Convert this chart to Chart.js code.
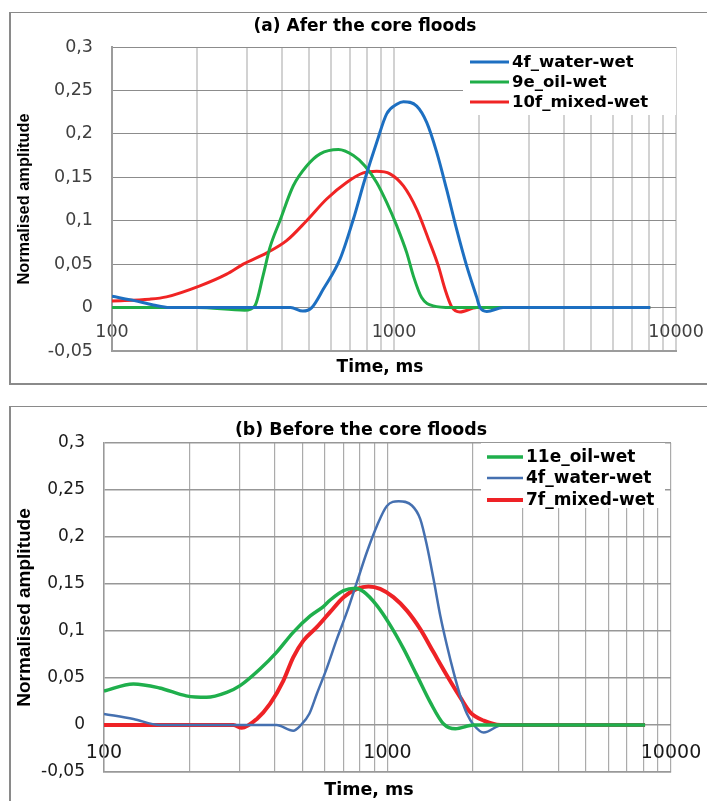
<!DOCTYPE html>
<html>
<head>
<meta charset="utf-8">
<title>Normalised amplitude vs time</title>
<script src="https://cdn.jsdelivr.net/npm/chart.js@4.4.1/dist/chart.umd.min.js"></script>
<style>
  html, body { margin: 0; padding: 0; background: #fff; overflow: hidden; }
  body { width: 707px; height: 801px; position: relative; }
  .frame { position: absolute; box-sizing: border-box; border: 1px solid #8a8a8a; border-left-width: 2px; }
  #frameA { left: 9px; top: 12px; width: 720px; height: 373px; border-bottom-width: 2px; }
  #frameB { left: 9px; top: 406px; width: 720px; height: 420px; }
  canvas { position: absolute; left: 0; }
  #chartA { top: 0; }
  #chartB { top: 395px; }
</style>
</head>
<body>
<div class="frame" id="frameA"></div>
<div class="frame" id="frameB"></div>
<canvas id="chartA" width="707" height="390"></canvas>
<canvas id="chartB" width="707" height="406"></canvas>
<script>
// time axis (ms, log) - a gridline on every 1..9 x 10^n, labels on decades only
const xTicks = [100, 200, 300, 400, 500, 600, 700, 800, 900,
                1000, 2000, 3000, 4000, 5000, 6000, 7000, 8000, 9000, 10000];
const xLabelled = [100, 1000, 10000];
const yMin = -0.05, yMax = 0.3, yStep = 0.05;

// (a) after the core floods
const aWaterT = [100, 120, 140, 160, 300, 430, 475, 511, 561, 644, 718, 789, 868, 942, 1023, 1080, 1204, 1307, 1417, 1537, 1668, 1810, 1964, 2018, 2133, 2438, 4000, 8100];
const aWaterV = [0.013, 0.008, 0.003, 0, 0, 0, -0.004, 0, 0.021, 0.056, 0.102, 0.148, 0.190, 0.223, 0.234, 0.237, 0.232, 0.213, 0.179, 0.136, 0.090, 0.048, 0.012, 0, -0.0045, 0, 0, 0];
const aOilT = [100, 200, 296, 321, 344, 363, 394, 439, 490, 547, 635, 718, 789, 868, 942, 1023, 1110, 1171, 1253, 1377, 1600, 8100];
const aOilV = [0, 0, -0.003, 0.002, 0.038, 0.069, 0.100, 0.140, 0.163, 0.177, 0.182, 0.175, 0.163, 0.144, 0.121, 0.094, 0.063, 0.0365, 0.0115, 0.002, 0, 0];
const aMixedT = [100, 136, 156, 205, 255, 292, 354, 416, 490, 577, 679, 778, 868, 968, 1080, 1204, 1324, 1436, 1517, 1601, 1713, 1964, 8100];
const aMixedV = [0.0077, 0.0097, 0.0123, 0.025, 0.0385, 0.050, 0.063, 0.077, 0.100, 0.125, 0.144, 0.155, 0.157, 0.154, 0.140, 0.113, 0.079, 0.048, 0.021, 0.001, -0.005, 0, 0];

// (b) before the core floods
const bOilT = [100, 127, 157, 195, 230, 271, 302, 355, 406, 465, 534, 594, 628, 700, 769, 822, 918, 1023, 1140, 1271, 1416, 1578, 1735, 2014, 8100];
const bOilV = [0.036, 0.0437, 0.0394, 0.031, 0.0294, 0.0347, 0.0419, 0.0596, 0.0773, 0.0986, 0.116, 0.126, 0.133, 0.143, 0.1455, 0.142, 0.127, 0.106, 0.081, 0.0525, 0.024, 0.001, -0.004, 0, 0];
const bWaterT = [100, 127, 157, 406, 465, 495, 530, 563, 610, 663, 719, 780, 846, 918, 995, 1094, 1219, 1305, 1377, 1454, 1536, 1622, 1711, 1806, 1908, 2014, 2185, 2536, 8100];
const bWaterV = [0.0117, 0.0064, 0, 0, -0.006, 0, 0.012, 0.033, 0.060, 0.0916, 0.120, 0.152, 0.184, 0.212, 0.233, 0.238, 0.2335, 0.219, 0.191, 0.155, 0.116, 0.084, 0.056, 0.031, 0.0117, 0, -0.008, 0, 0];
const bMixedT = [100, 286, 306, 346, 385, 429, 465, 505, 563, 627, 700, 780, 857, 942, 1049, 1171, 1305, 1454, 1622, 1806, 1959, 2185, 2500, 8100];
const bMixedV = [0, 0, -0.003, 0.0064, 0.0224, 0.047, 0.072, 0.0898, 0.104, 0.120, 0.136, 0.1448, 0.1473, 0.1448, 0.136, 0.1217, 0.102, 0.0773, 0.0525, 0.0294, 0.0134, 0.0046, 0, 0];

Chart.defaults.font.family = '"DejaVu Sans", sans-serif';

function pts(t, v) {
  return t.map((x, i) => ({ x: x, y: v[i] }));
}

function commaLabel(v) {
  return String(Math.round(v * 100) / 100).replace('.', ',');
}

// panel title, x axis title and the in-plot legend
const panelDecor = {
  id: 'panelDecor',
  afterDraw(chart, args, o) {
    const ctx = chart.ctx;
    ctx.save();
    ctx.fillStyle = '#000';
    ctx.textAlign = 'center';
    ctx.textBaseline = 'middle';
    ctx.font = o.titleFont;
    ctx.fillText(o.title, o.titleAt[0], o.titleAt[1]);
    ctx.font = o.xTitleFont;
    ctx.fillText(o.xTitle, o.xTitleAt[0], o.xTitleAt[1]);

    const b = o.legendBox;
    ctx.fillStyle = '#fff';
    ctx.fillRect(b[0], b[1], b[2] - b[0], b[3] - b[1]);
    ctx.font = o.legendFont;
    ctx.textAlign = 'left';
    chart.data.datasets.forEach((ds, i) => {
      const y = o.legendRows[i];
      ctx.strokeStyle = ds.borderColor;
      ctx.lineWidth = ds.borderWidth;
      ctx.beginPath();
      ctx.moveTo(o.legendLine[0], y);
      ctx.lineTo(o.legendLine[1], y);
      ctx.stroke();
      ctx.fillStyle = '#000';
      ctx.fillText(ds.label, o.legendTextX, y + 1);
    });
    ctx.restore();
  }
};

function panelOptions(p) {
  return {
    responsive: false,
    animation: false,
    layout: { padding: { left: 12, right: p.padRight, top: p.padTop, bottom: 0 } },
    elements: {
      point: { radius: 0 },
      line: { cubicInterpolationMode: 'monotone', fill: false }
    },
    plugins: {
      legend: { display: false },
      title: { display: false },
      tooltip: { enabled: false },
      panelDecor: p.decor
    },
    scales: {
      x: {
        type: 'logarithmic',
        min: 100,
        max: 10000,
        afterBuildTicks: s => { s.ticks = xTicks.map(v => ({ value: v })); },
        afterFit: s => { s.height = p.xAxisHeight; s.paddingLeft = 0; s.paddingRight = 0; },
        ticks: {
          // labels sit just above the bottom edge of the plot
          mirror: true,
          autoSkip: false, maxRotation: 0, minRotation: 0,
          padding: p.xTickPad,
          color: p.tickColor,
          font: { size: p.xTickSize },
          callback: v => xLabelled.includes(v) ? String(v) : ''
        },
        grid: { color: p.xGridColor, lineWidth: p.xGridWidth, drawTicks: false },
        border: { display: true, color: p.borderColor, width: p.borderWidth }
      },
      y: {
        min: yMin,
        max: yMax,
        afterFit: s => { s.width = p.yAxisWidth; s.paddingTop = 0; s.paddingBottom = 0; },
        ticks: {
          stepSize: yStep,
          padding: 19,
          color: p.tickColor,
          font: { size: p.yTickSize },
          callback: v => commaLabel(v)
        },
        grid: { color: p.yGridColor, lineWidth: p.yGridWidth, drawTicks: false },
        border: { display: true, color: p.borderColor, width: p.borderWidth },
        title: {
          display: true,
          text: 'Normalised amplitude',
          color: '#000',
          font: { family: '"Liberation Sans", Arial, sans-serif', size: p.yTitleSize, weight: 'bold' },
          padding: { top: p.yTitlePad, bottom: 0 }
        }
      }
    }
  };
}

new Chart(document.getElementById('chartA'), {
  type: 'line',
  data: {
    datasets: [
      { label: '4f_water-wet', data: pts(aWaterT, aWaterV), borderColor: '#1d6fc1', borderWidth: 3 },
      { label: '9e_oil-wet', data: pts(aOilT, aOilV), borderColor: '#1fae48', borderWidth: 3 },
      { label: '10f_mixed-wet', data: pts(aMixedT, aMixedV), borderColor: '#f02424', borderWidth: 3 }
    ]
  },
  options: panelOptions({
    padTop: 47, padRight: 31, xAxisHeight: 39, yAxisWidth: 100,
    xTickPad: 8.5, xTickSize: 17.5, yTickSize: 17.5, tickColor: '#404040',
    xGridColor: '#d2d2d2', xGridWidth: 2, yGridColor: '#8c8c8c', yGridWidth: 1,
    borderColor: '#9c9c9c', borderWidth: 2,
    yTitleSize: 16.4, yTitlePad: 3,
    decor: {
      title: '(a) Afer the core floods', titleAt: [365, 27], titleFont: 'bold 17px "DejaVu Sans"',
      xTitle: 'Time, ms', xTitleAt: [380, 368], xTitleFont: 'bold 17px "DejaVu Sans"',
      legendBox: [463, 48, 676, 115], legendLine: [470, 509], legendTextX: 512,
      legendRows: [62, 82, 102], legendFont: 'bold 16.5px "DejaVu Sans"'
    }
  }),
  plugins: [panelDecor]
});

new Chart(document.getElementById('chartB'), {
  type: 'line',
  data: {
    datasets: [
      { label: '11e_oil-wet', data: pts(bOilT, bOilV), borderColor: '#1faf4c', borderWidth: 3.5 },
      { label: '4f_water-wet', data: pts(bWaterT, bWaterV), borderColor: '#4570b0', borderWidth: 2.5 },
      { label: '7f_mixed-wet', data: pts(bMixedT, bMixedV), borderColor: '#ee2226', borderWidth: 4 }
    ]
  },
  options: panelOptions({
    padTop: 48, padRight: 36, xAxisHeight: 29, yAxisWidth: 92,
    xTickPad: 7.6, xTickSize: 19, yTickSize: 17, tickColor: '#1a1a1a',
    xGridColor: '#ababab', xGridWidth: 1.2, yGridColor: '#979797', yGridWidth: 1.6,
    borderColor: '#999999', borderWidth: 1.5,
    yTitleSize: 19, yTitlePad: 1.5,
    decor: {
      title: '(b) Before the core floods', titleAt: [361, 35], titleFont: 'bold 17.4px "DejaVu Sans"',
      xTitle: 'Time, ms', xTitleAt: [369, 395], xTitleFont: 'bold 17.5px "DejaVu Sans"',
      legendBox: [481, 48, 665, 113], legendLine: [487, 523], legendTextX: 526,
      legendRows: [62, 83, 105], legendFont: 'bold 17px "DejaVu Sans"'
    }
  }),
  plugins: [panelDecor]
});
</script>
</body>
</html>
